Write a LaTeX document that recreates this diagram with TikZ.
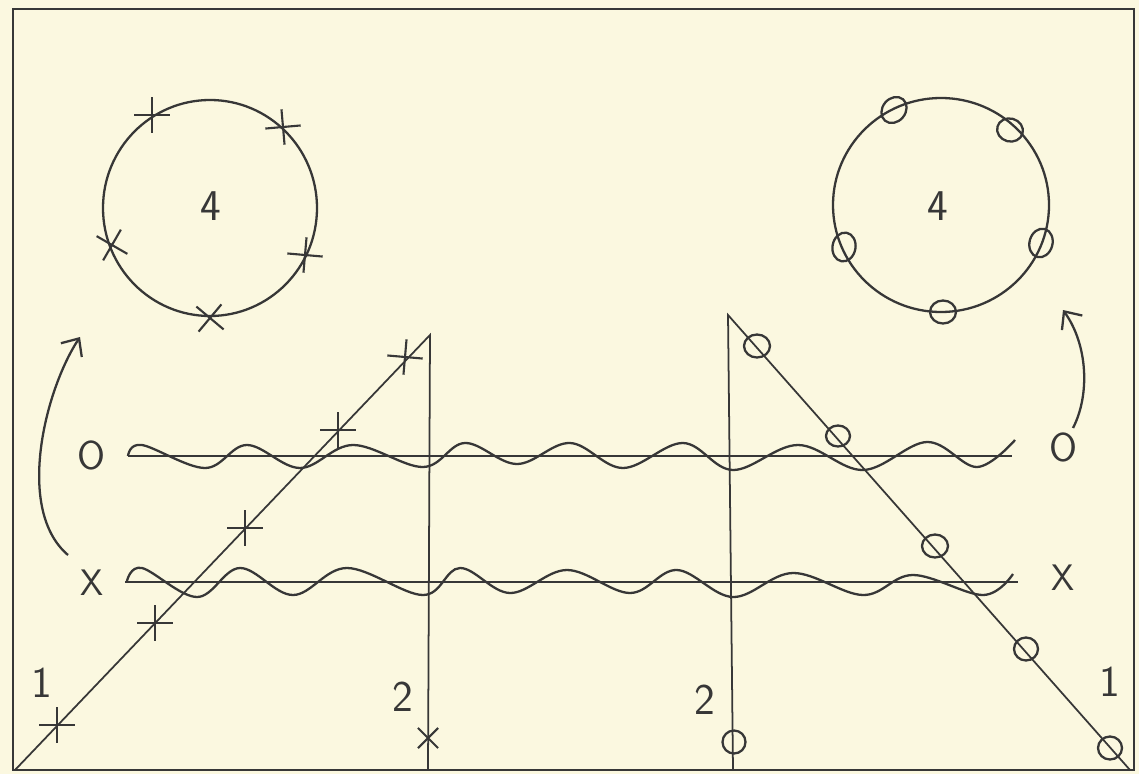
\documentclass[tikz,border=0pt]{standalone}
\usepackage{tikz}
\usetikzlibrary{shapes.geometric, shapes.misc, arrows.meta}
\definecolor{paper}{RGB}{251,248,224}
\definecolor{ink}{RGB}{55,55,55}

\begin{document}
\begin{tikzpicture}[
        x=0.02cm, y=-0.02cm,
        inkline/.style={draw=ink, line width=1.3pt},
        thinline/.style={draw=ink, line width=1pt},
        xmark/.style={draw=ink, cross out, minimum size=0.46cm, inner sep=0pt, line width=1.2pt},
        omark/.style={draw=ink, ellipse, minimum width=0.52cm, minimum height=0.46cm, inner sep=0pt, line width=1.3pt},
        lbl/.style={text=ink, font=\sffamily\fontsize{21}{25}\selectfont, inner sep=0pt},
        big/.style={text=ink, font=\sffamily\fontsize{25}{30}\selectfont, inner sep=0pt},
        >={Straight Barb[length=2.8mm,width=5mm]}
    ]
        % Papier und Rahmen
        \fill[paper] (0,0) rectangle (1139,774);
        \useasboundingbox (0,0) rectangle (1139,774);
        \draw[thinline] (13,9) rectangle (1134,770);
        % Kreise oben
        \draw[inkline] (210,208) ellipse [x radius=107, y radius=108];
        \draw[inkline] (941,205) ellipse [x radius=108, y radius=107];
        \node[big] (N1) at (211,206) {4};
        \node[big] (N2) at (938,206) {4};
        \node[xmark, rotate=45] (C1) at (152,115) {};
        \node[xmark, rotate=50] (C2) at (283,127) {};
        \node[xmark, rotate=15] (C3) at (112,245) {};
        \node[xmark, rotate=40] (C4) at (305,255) {};
        \node[xmark, rotate=5] (C5) at (210,318) {};
        \node[omark, rotate=50, minimum width=0.56cm] (K1) at (894,110) {};
        \node[omark, rotate=-15] (K2) at (1010,130) {};
        \node[omark, rotate=80, minimum width=0.58cm] (K3) at (844,247) {};
        \node[omark, rotate=75, minimum width=0.58cm] (K4) at (1041,243) {};
        \node[omark] (K5) at (943,312) {};
        % Dreiecke
        \coordinate (L0) at (15,770);
        \coordinate (L1) at (430,335);
        \coordinate (L2) at (428,770);
        \coordinate (R0) at (728,315);
        \coordinate (R1) at (733,770);
        \coordinate (R2) at (1130,770);
        \draw[thinline] (L0) -- (L1) -- (L2);
        \draw[thinline] (R1) -- (R0) -- (R2);
        \node[xmark, rotate=45] (P1) at (57,725) {};
        \node[xmark, rotate=45] (P2) at (155,623) {};
        \node[xmark, rotate=45] (P3) at (245,528) {};
        \node[xmark, rotate=45] (P4) at (338,430) {};
        \node[xmark, rotate=40] (P5) at (405,357) {};
        \node[xmark, minimum size=0.36cm] (P6) at (428,738) {};
        \node[omark] (Q1) at (757,346) {};
        \node[omark, minimum width=0.48cm, minimum height=0.42cm] (Q2) at (838,436) {};
        \node[omark] (Q3) at (935,546) {};
        \node[omark, minimum width=0.48cm] (Q4) at (1026,649) {};
        \node[omark, minimum width=0.48cm] (Q5) at (1110,748) {};
        \node[omark, minimum width=0.46cm, minimum height=0.46cm] (Q6) at (734,742) {};
        % Linien und Wellen
        \coordinate (H1a) at (128,456);
        \coordinate (H1b) at (1012,456);
        \coordinate (H2a) at (125,582);
        \coordinate (H2b) at (1018,582);
        \draw[inkline] (H1a) -- (H1b);
        \draw[inkline] (H2a) -- (H2b);
        \draw[inkline] plot[smooth, tension=0.6] coordinates {(128,456) (142,445) (205,468) (247,445) (300,468) (353,445) (423,467) (465,443) (517,464) (570,443) (623,468) (683,443) (733,470) (798,445) (863,470) (927,442) (977,467) (1015,440)};
        \draw[inkline] plot[smooth, tension=0.6] coordinates {(127,581) (142,568) (197,597) (240,568) (293,595) (347,568) (423,595) (460,568) (510,593) (567,570) (630,593) (677,570) (733,597) (793,573) (863,595) (913,575) (983,595) (1013,574)};
        % Beschriftung
        \node[lbl, font=\sffamily\fontsize{23}{27}\selectfont] (O1) at (92,455) {O};
        \node[lbl] (X1) at (92,583) {X};
        \node[lbl, font=\sffamily\fontsize{23}{27}\selectfont] (O2) at (1063,447) {O};
        \node[lbl] (X2) at (1063,578) {X};
        \node[big] (E1) at (42,683) {1};
        \node[big] (Z1) at (403,697) {2};
        \node[big] (Z2) at (705,700) {2};
        \node[big] (E2) at (1110,682) {1};
        % Pfeile
        \coordinate (A1s) at (68,555);
        \coordinate (A1e) at (80,337);
        \coordinate (A2s) at (1073,428);
        \coordinate (A2e) at (1063,310);
        \draw[inkline, ->] (A1s) .. controls (15,510) and (45,390) .. (A1e);
        \draw[inkline, ->] (A2s) .. controls (1090,395) and (1088,345) .. (A2e);
\end{tikzpicture}
\end{document}
